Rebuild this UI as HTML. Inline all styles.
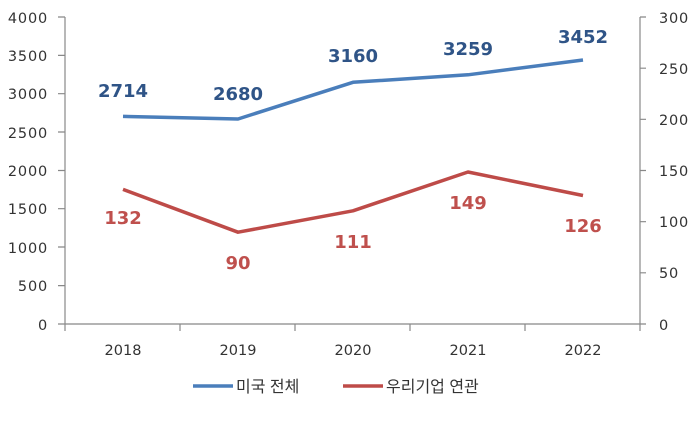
<!DOCTYPE html>
<html><head><meta charset="utf-8"><style>
html,body{margin:0;padding:0;background:#fff}
svg text{font-family:"DejaVu Sans","Noto Sans CJK KR",sans-serif}
svg text.k{font-family:"Liberation Sans","Noto Sans CJK KR",sans-serif}
</style></head><body>
<svg width="700" height="416" viewBox="0 0 700 416" xmlns="http://www.w3.org/2000/svg">
<g stroke="#888" stroke-width="1.2" fill="none">
<line x1="65" y1="17" x2="65" y2="324"/>
<line x1="640" y1="17" x2="640" y2="324"/>
<line x1="65" y1="324" x2="640" y2="324"/>
<path d="M58 17H65M58 55.4H65M58 93.7H65M58 132H65M58 170.5H65M58 208.7H65M58 247H65M58 285.6H65M58 324H65"/>
<path d="M640 17H646M640 68.2H646M640 119.3H646M640 170.5H646M640 221.7H646M640 272.8H646M640 324H646"/>
<path d="M65 324V331M180 324V331M295 324V331M410 324V331M525 324V331M640 324V331"/>
</g>
<g font-size="14.5" fill="#333" text-anchor="end" letter-spacing="0.8">
<text x="48" y="23">4000</text><text x="48" y="61">3500</text><text x="48" y="99">3000</text>
<text x="48" y="138">2500</text><text x="48" y="176">2000</text><text x="48" y="214">1500</text>
<text x="48" y="253">1000</text><text x="48" y="291">500</text><text x="48" y="330">0</text>
</g>
<g font-size="14.5" fill="#333" letter-spacing="0.8">
<text x="659" y="23">300</text><text x="659" y="74">250</text><text x="659" y="125">200</text>
<text x="659" y="176">150</text><text x="659" y="227">100</text><text x="659" y="278">50</text><text x="659" y="330">0</text>
</g>
<g font-size="14.5" fill="#333" text-anchor="middle">
<text x="123" y="355">2018</text><text x="238" y="355">2019</text><text x="353" y="355">2020</text>
<text x="468" y="355">2021</text><text x="583" y="355">2022</text>
</g>
<polyline points="123,116.4 238,119 353,82.3 468,74.8 583,60" fill="none" stroke="#4a7ebb" stroke-width="3.5" stroke-linejoin="round"/>
<polyline points="123,189.4 238,232.2 353,210.8 468,172 583,195.5" fill="none" stroke="#be4b48" stroke-width="3.5" stroke-linejoin="round"/>
<g font-size="18" font-weight="bold" fill="#2f5487" text-anchor="middle">
<text x="123" y="97">2714</text><text x="238" y="100">2680</text><text x="353" y="62">3160</text>
<text x="468" y="55">3259</text><text x="583" y="43">3452</text>
</g>
<g font-size="18" font-weight="bold" fill="#bf504d" text-anchor="middle">
<text x="123" y="224">132</text><text x="238" y="269">90</text><text x="353" y="248">111</text>
<text x="468" y="209">149</text><text x="583" y="232">126</text>
</g>
<line x1="193" y1="386" x2="233" y2="386" stroke="#4a7ebb" stroke-width="3.5"/>
<text class="k" x="236" y="392" font-size="16" fill="#333">미국 전체</text>
<line x1="343" y1="386" x2="383" y2="386" stroke="#be4b48" stroke-width="3.5"/>
<text class="k" x="386" y="392" font-size="16" fill="#333">우리기업 연관</text>
</svg>
</body></html>
